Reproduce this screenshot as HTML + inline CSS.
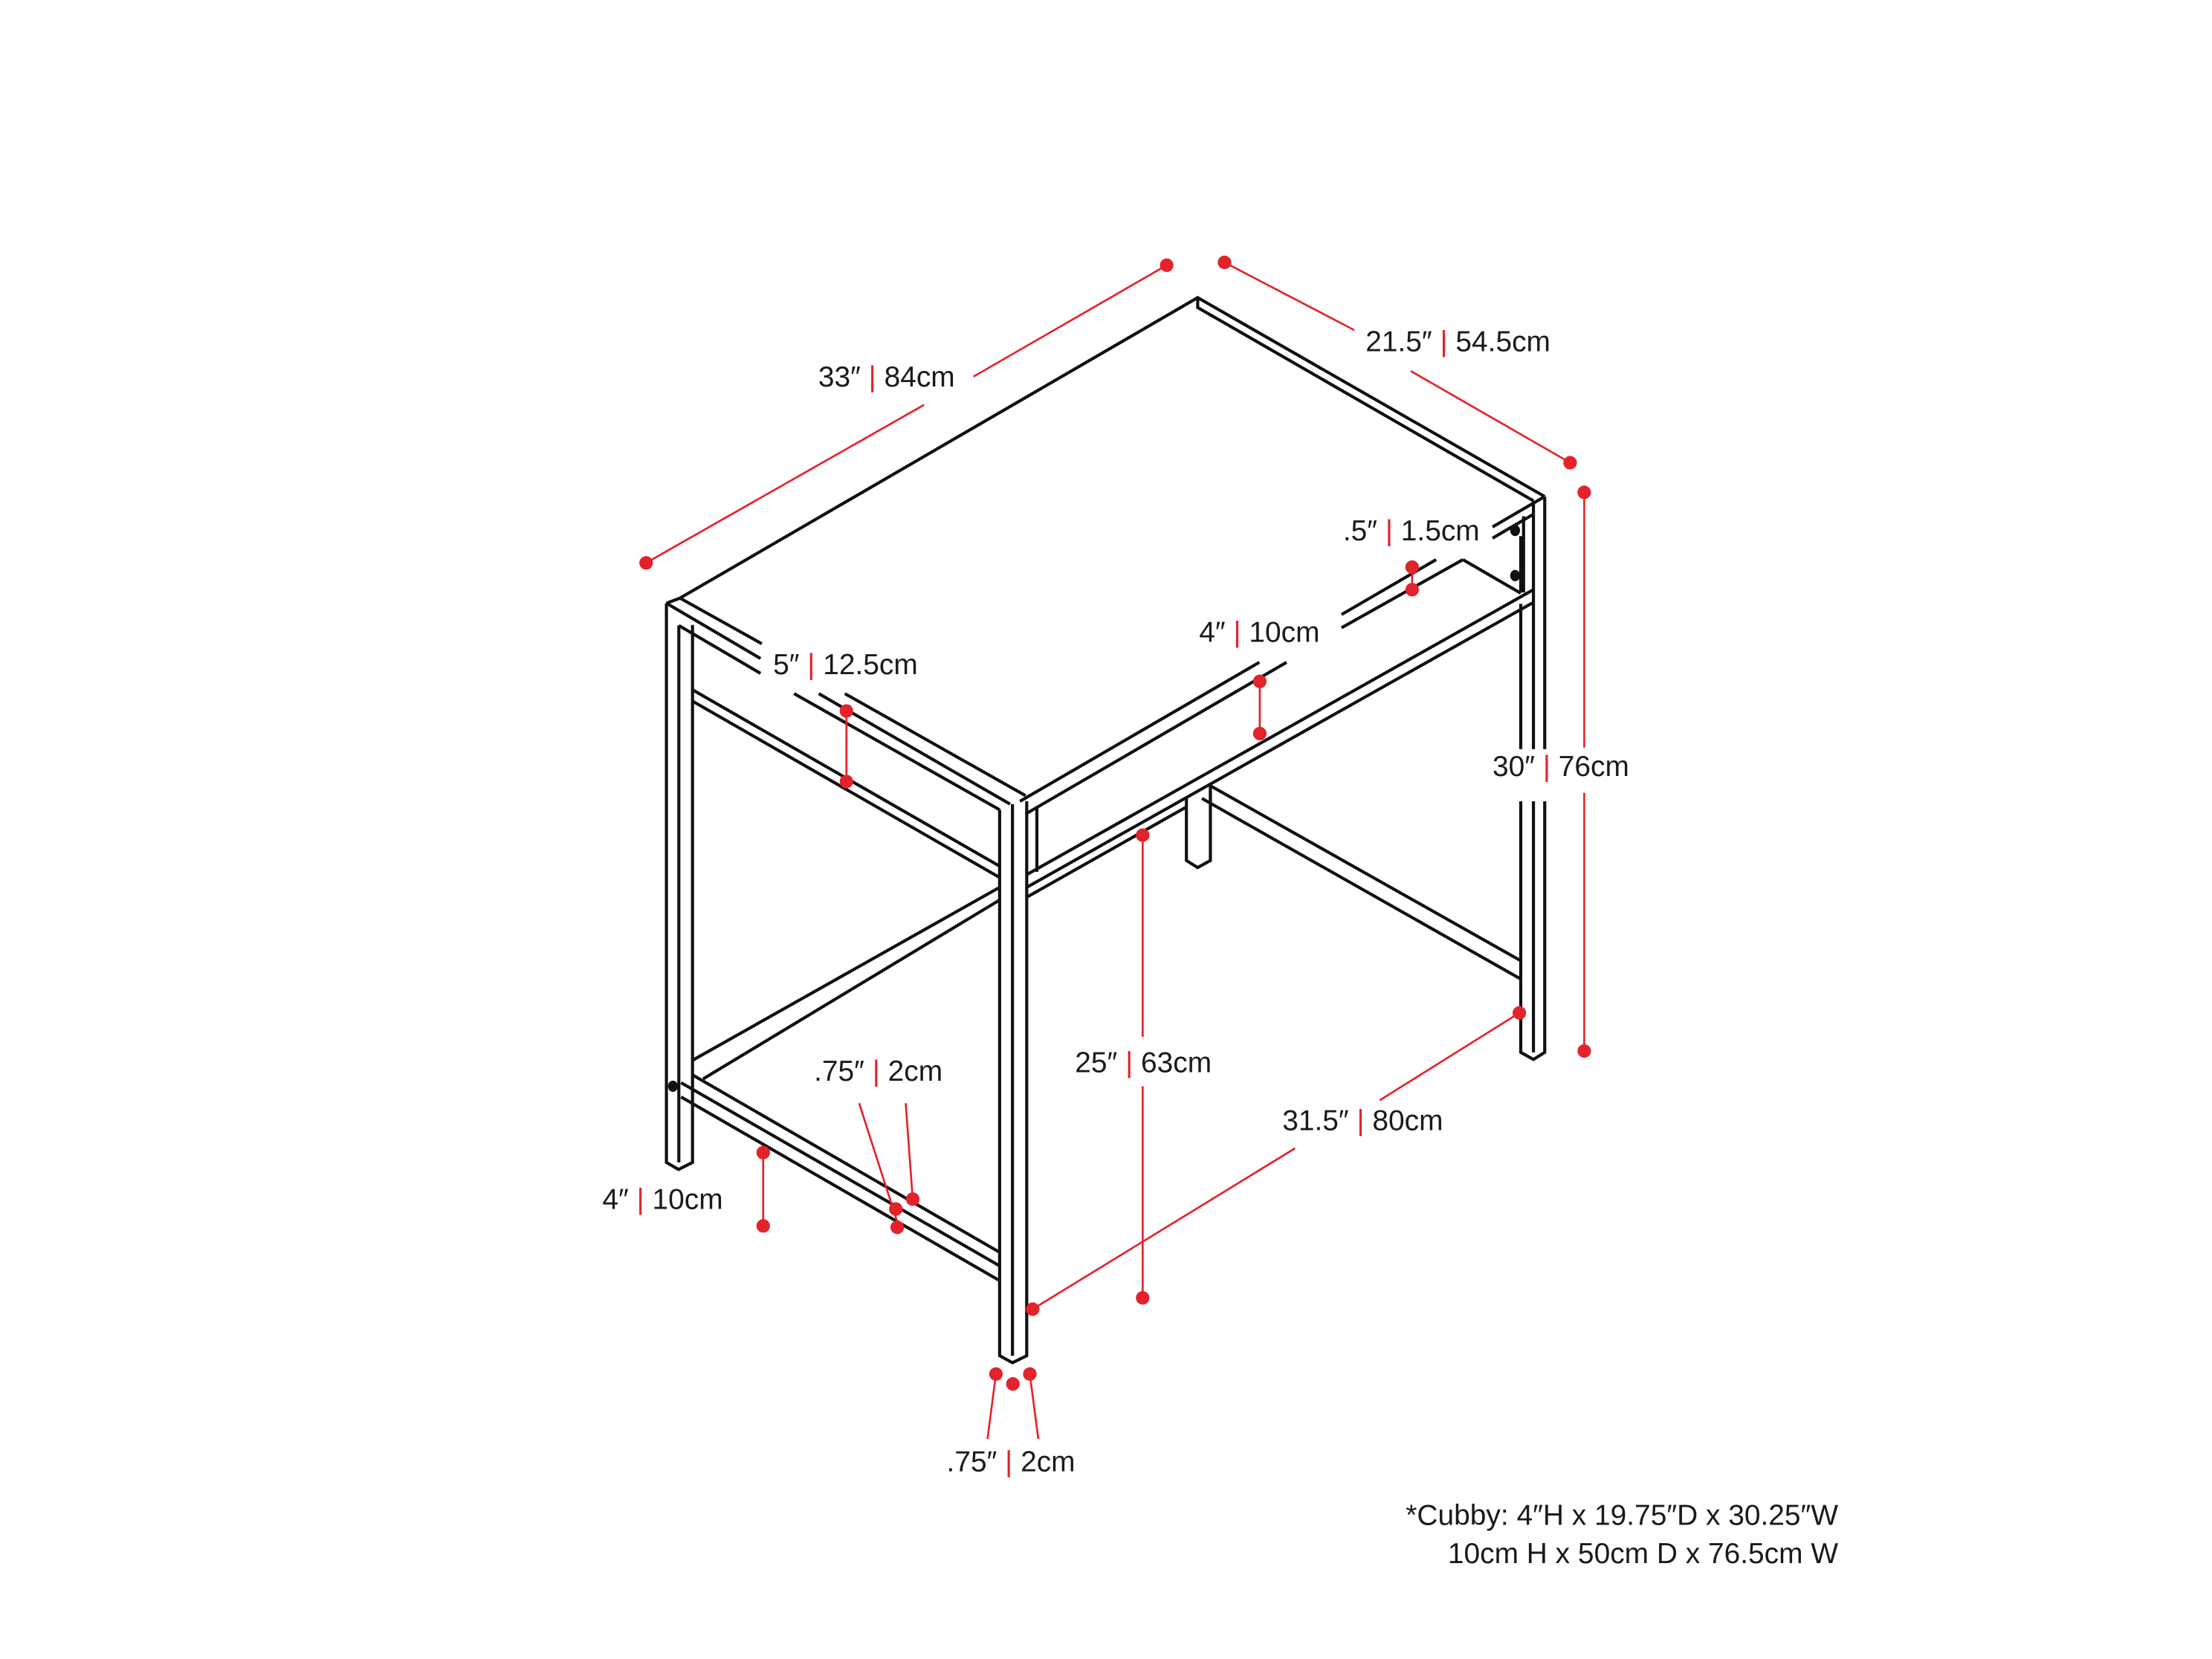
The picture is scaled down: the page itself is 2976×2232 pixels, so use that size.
<!DOCTYPE html>
<html><head><meta charset="utf-8"><style>
html,body{margin:0;padding:0;background:#fff;}
svg{display:block;}
text{font-family:"Liberation Sans",sans-serif;font-size:20.5px;fill:#1a1a1a;}
.r{fill:#e3232b;}
</style></head><body>
<svg width="2976" height="2232" viewBox="0 0 1568 1176" xmlns="http://www.w3.org/2000/svg">
<g fill="none" stroke="#111" stroke-width="2.2" stroke-linejoin="miter">
<!-- top surface: back edges -->
<polyline points="482,424 849,211 1095,352"/>
<polyline points="849,211 849,218 1087,355"/>
<line x1="472.4" y1="427.6" x2="482" y2="424"/>
<!-- front-left edge triple lines with label gap -->
<line x1="482" y1="424" x2="540" y2="456.3"/>
<line x1="598.9" y1="491.7" x2="727" y2="564"/>
<line x1="472.4" y1="427.6" x2="539.1" y2="466.8"/>
<line x1="580.4" y1="491.7" x2="716" y2="570"/>
<line x1="481.2" y1="443.4" x2="539.1" y2="477.3"/>
<line x1="562.9" y1="491.7" x2="708.6" y2="574"/>
<!-- top front-right edge (two lines) with gaps -->
<line x1="723" y1="568" x2="892.7" y2="469.5"/>
<line x1="727" y1="577" x2="912" y2="469.5"/>
<line x1="951" y1="435.6" x2="1018" y2="396.7"/>
<line x1="951" y1="445" x2="1037" y2="396.7"/>
<line x1="1058" y1="373.5" x2="1095" y2="352"/>
<line x1="1058" y1="381.5" x2="1087" y2="364.5"/>
<!-- cubby back inside -->
<line x1="1037" y1="396.7" x2="1078" y2="420.5"/>
<line x1="1080" y1="366" x2="1080" y2="420"/>
<!-- front-left leg -->
<polyline points="472.4,427.6 472.4,824 481,829 490.9,824 490.9,443"/>
<line x1="481.2" y1="443.4" x2="481.2" y2="824"/>
<!-- front center leg -->
<polyline points="708.6,574 708.6,961 717.7,966 727.8,961 727.8,568"/>
<line x1="717.7" y1="570" x2="717.7" y2="961"/>
<line x1="735" y1="573" x2="735" y2="618"/>
<!-- right leg (broken at 30" label) -->
<polyline points="1078,531 1078,428"/>
<polyline points="1087,355 1087,531"/>
<polyline points="1095,352 1095,531"/>
<polyline points="1095,568 1095,746 1087,751 1078,746 1078,568"/>
<line x1="1087" y1="568" x2="1087" y2="746"/>
<line x1="1078" y1="380" x2="1078" y2="420"/>
<!-- back leg -->
<polyline points="841,565 841,610 849,615 858,610 858,560"/>
<!-- left apron -->
<line x1="490.9" y1="489" x2="708.6" y2="614"/>
<line x1="490.9" y1="497" x2="708.6" y2="622"/>
<!-- long stretcher front-left to right -->
<line x1="490.9" y1="751.6" x2="708.6" y2="629"/>
<line x1="498.4" y1="764.8" x2="708.6" y2="638"/>
<line x1="727.8" y1="620" x2="1087" y2="418"/>
<line x1="727.8" y1="629" x2="1087" y2="427"/>
<line x1="727.8" y1="636" x2="841" y2="572"/>
<!-- lower left side stretcher -->
<line x1="490.9" y1="762" x2="708.6" y2="887.7"/>
<line x1="482.8" y1="767.5" x2="708.6" y2="897.3"/>
<line x1="482.8" y1="777.6" x2="708.6" y2="907.8"/>
<!-- right side stretcher -->
<line x1="858" y1="557" x2="1078" y2="681"/>
<line x1="852" y1="566" x2="1078" y2="694"/>
<line x1="858" y1="566" x2="858" y2="557"/>
</g>
<g fill="#111">
<ellipse cx="477" cy="770" rx="3.5" ry="4"/>
<ellipse cx="1074" cy="376" rx="3.5" ry="4"/>
<ellipse cx="1074" cy="408" rx="3.5" ry="4"/>
</g>
<!-- red dims -->
<g stroke="#e3232b" stroke-width="1.4" fill="none">
<line x1="458" y1="399" x2="655" y2="287"/><line x1="690" y1="267" x2="827" y2="188"/>
<line x1="868" y1="186" x2="960" y2="234"/><line x1="1000" y1="263" x2="1113" y2="328"/>
<line x1="1123" y1="349" x2="1123" y2="530"/><line x1="1123" y1="562" x2="1123" y2="745"/>
<line x1="1001" y1="402" x2="1001" y2="418"/>
<line x1="893" y1="483" x2="893" y2="520"/>
<line x1="600" y1="504" x2="600" y2="554"/>
<line x1="810" y1="592" x2="810" y2="735"/><line x1="810" y1="770" x2="810" y2="920"/>
<line x1="732" y1="928" x2="918" y2="814"/><line x1="978" y1="780" x2="1077" y2="718"/>
<line x1="609" y1="782" x2="636" y2="866"/><line x1="642" y1="782" x2="647" y2="850"/>
<line x1="541" y1="817" x2="541" y2="869"/>
<line x1="706" y1="974" x2="700" y2="1020"/><line x1="730" y1="974" x2="736" y2="1020"/>
</g>
<g fill="#e3232b">
<circle cx="458" cy="399" r="4.8"/><circle cx="827" cy="188" r="4.8"/>
<circle cx="868" cy="186" r="4.8"/><circle cx="1113" cy="328" r="4.8"/>
<circle cx="1123" cy="349" r="4.8"/><circle cx="1123" cy="745" r="4.8"/>
<circle cx="1001" cy="402" r="4.8"/><circle cx="1001" cy="418" r="4.8"/>
<circle cx="893" cy="483" r="4.8"/><circle cx="893" cy="520" r="4.8"/>
<circle cx="600" cy="504" r="4.8"/><circle cx="600" cy="554" r="4.8"/>
<circle cx="810" cy="592" r="4.8"/><circle cx="810" cy="920" r="4.8"/>
<circle cx="732" cy="928" r="4.8"/><circle cx="1077" cy="718" r="4.8"/>
<circle cx="635" cy="857" r="4.8"/><circle cx="647" cy="850" r="4.8"/><circle cx="636" cy="870" r="4.8"/>
<circle cx="541" cy="817" r="4.8"/><circle cx="541" cy="869" r="4.8"/>
<circle cx="706" cy="974" r="4.8"/><circle cx="718" cy="981" r="4.8"/><circle cx="730" cy="974" r="4.8"/>
</g>
<g>
<text x="580" y="274">33″ <tspan class="r">|</tspan> 84cm</text>
<text x="968" y="249">21.5″ <tspan class="r">|</tspan> 54.5cm</text>
<text x="1058" y="550">30″ <tspan class="r">|</tspan> 76cm</text>
<text x="952" y="383">.5″ <tspan class="r">|</tspan> 1.5cm</text>
<text x="850" y="455">4″ <tspan class="r">|</tspan> 10cm</text>
<text x="548" y="478">5″ <tspan class="r">|</tspan> 12.5cm</text>
<text x="762" y="760">25″ <tspan class="r">|</tspan> 63cm</text>
<text x="909" y="801">31.5″ <tspan class="r">|</tspan> 80cm</text>
<text x="577" y="766">.75″ <tspan class="r">|</tspan> 2cm</text>
<text x="427" y="857">4″ <tspan class="r">|</tspan> 10cm</text>
<text x="671" y="1043">.75″ <tspan class="r">|</tspan> 2cm</text>
<text x="1303" y="1081" text-anchor="end">*Cubby: 4″H x 19.75″D x 30.25″W</text>
<text x="1303" y="1108" text-anchor="end">10cm H x 50cm D x 76.5cm W</text>
</g>
</svg>
</body></html>
